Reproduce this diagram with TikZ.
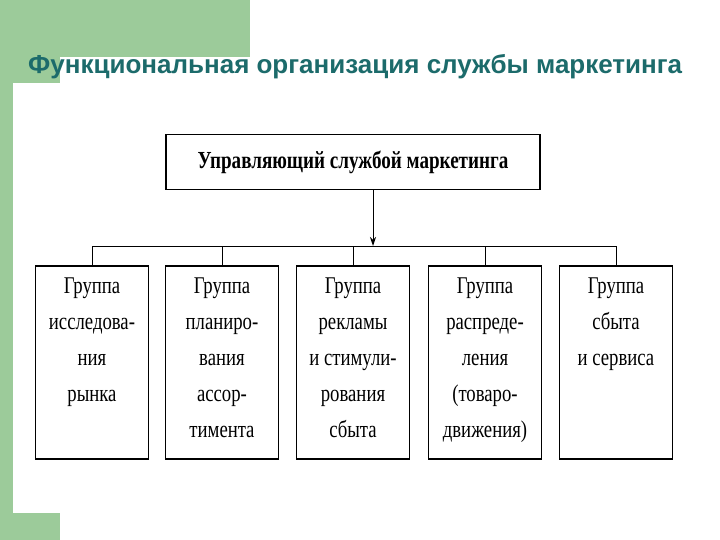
\documentclass[tikz,border=0pt]{standalone}
\usepackage{fontspec}
\usetikzlibrary{arrows.meta}
\setmainfont{Liberation Serif}
\newfontfamily\titlefont{Liberation Sans}
\newfontfamily\narrowfont[FakeStretch=0.78]{Liberation Serif}
\definecolor{gr}{HTML}{9CCB9A}
\definecolor{teal}{HTML}{1C6B6B}
\begin{document}
\begin{tikzpicture}[x=1pt,y=-1pt,
  box/.style={draw,line width=1.5pt,minimum width=113pt,minimum height=193pt,anchor=north,inner sep=0pt},
  lbl/.style={align=center,font=\narrowfont\fontsize{24}{36}\selectfont,anchor=north},
  ln/.style={line width=1pt}]
\useasboundingbox (0,0) rectangle (720,540);
\fill[white] (0,0) rectangle (720,540);
\fill[gr] (0,0) rectangle (250,57);
\fill[gr] (0,57) rectangle (60,83);
\fill[gr] (0,83) rectangle (13,513);
\fill[gr] (0,513) rectangle (60,540);
\node[anchor=base west,inner sep=0pt,text=teal,font=\titlefont\bfseries\fontsize{26}{30}\selectfont] (title) at (28,74) {Функциональная организация службы маркетинга};
\node[draw,line width=1.5pt,minimum width=374pt,minimum height=55pt,inner sep=0pt,font=\narrowfont\bfseries\fontsize{24.5}{28}\selectfont] (top) at (353,162) {Управляющий службой маркетинга};
\coordinate (bus) at (373,246);
\draw[ln,-{Stealth[length=9pt,width=6pt]}] (top.south -| bus) -- (bus);
\draw[ln] (92,246) -- (616,246);
\foreach \i/\x/\t in {1/92/{Группа\\исследова-\\ния\\рынка},
                      2/222/{Группа\\планиро-\\вания\\ассор-\\тимента},
                      3/353/{Группа\\рекламы\\и стимули-\\рования\\сбыта},
                      4/485/{Группа\\распреде-\\ления\\(товаро-\\движения)},
                      5/616/{Группа\\сбыта\\и сервиса}}{
  \node[box] (b\i) at (\x,265) {};
  \node[lbl] (t\i) at (\x,274) {\t};
  \draw[ln] (b\i.north) -- (\x,246);
}
\end{tikzpicture}
\end{document}
